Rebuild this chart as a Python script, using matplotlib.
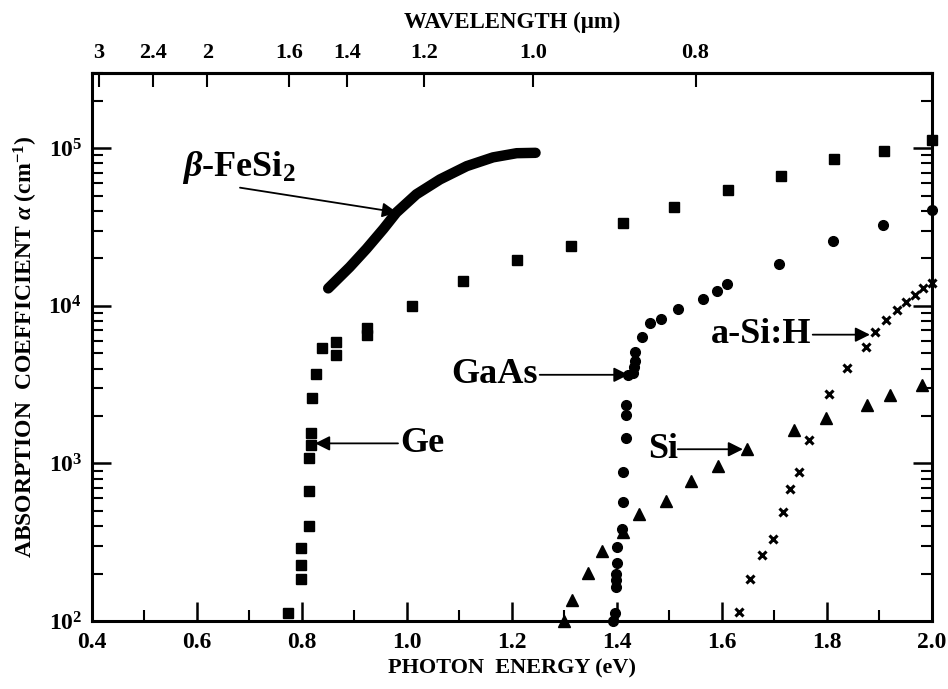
import matplotlib
matplotlib.use('Agg')
import matplotlib.pyplot as plt
from matplotlib.ticker import NullLocator, NullFormatter, FixedLocator
import numpy as np

plt.rcParams['font.family'] = 'Liberation Serif'
plt.rcParams['font.weight'] = 'bold'
plt.rcParams['axes.labelweight'] = 'bold'
plt.rcParams['mathtext.fontset'] = 'custom'
plt.rcParams['mathtext.rm'] = 'Liberation Serif:bold'
plt.rcParams['mathtext.it'] = 'Liberation Serif:italic:bold'
plt.rcParams['mathtext.bf'] = 'Liberation Serif:bold'

# dados (energia em eV, alfa em cm^-1)
ge_e = [0.774, 0.799, 0.799, 0.799, 0.814, 0.814, 0.814, 0.817, 0.817, 0.820, 0.826,
        0.839, 0.865, 0.865, 0.924, 0.924, 1.010, 1.107, 1.210, 1.312, 1.412, 1.509,
        1.612, 1.712, 1.813, 1.909, 2.0]
ge_a = [112, 186, 226, 292, 398, 670, 1080, 1300, 1550, 2600, 3700,
        5370, 5900, 4900, 6530, 7200, 10000, 14400, 19400, 24100, 33400, 42600,
        54500, 66800, 85900, 95500, 113000]

gaas_e = [1.392, 1.396, 1.398, 1.398, 1.399, 1.401, 1.401, 1.409, 1.411, 1.412, 1.417,
          1.417, 1.418, 1.422, 1.431, 1.433, 1.434, 1.434, 1.447, 1.463, 1.484, 1.516,
          1.564, 1.590, 1.609, 1.709, 1.811, 1.906, 2.0]
gaas_a = [100, 112, 165, 181, 200, 233, 294, 385, 565, 885, 1450,
          2040, 2360, 3650, 3740, 4070, 4440, 5120, 6300, 7770, 8300, 9580,
          11100, 12400, 13800, 18300, 25600, 32600, 40700]

si_e = [1.300, 1.314, 1.345, 1.371, 1.411, 1.443, 1.493, 1.541, 1.593, 1.647, 1.737,
        1.799, 1.876, 1.920, 1.982]
si_a = [100, 136, 203, 280, 366, 480, 580, 776, 964, 1230, 1640,
        1950, 2340, 2700, 3160]

asih_e = [1.632, 1.653, 1.676, 1.698, 1.716, 1.730, 1.746, 1.765, 1.804, 1.839, 1.874,
          1.891, 1.912, 1.933, 1.950, 1.968, 1.983, 2.001]
asih_a = [114, 186, 263, 332, 494, 687, 884, 1410, 2760, 4060, 5460,
          6860, 8130, 9350, 10600, 11700, 12900, 14000]

fesi_e = [0.850, 0.891, 0.923, 0.955, 0.980, 1.018, 1.063, 1.114, 1.164, 1.209, 1.245]
fesi_a = [12900, 17600, 23000, 30700, 39100, 51000, 63400, 77000, 87500, 93000, 93500]

# eixo superior: comprimento de onda (um)
wl = [3, 2.4, 2, 1.6, 1.4, 1.2, 1.0, 0.8]
wl_labels = ['3', '2.4', '2', '1.6', '1.4', '1.2', '1.0', '0.8']

fig, ax = plt.subplots(figsize=(9.48, 6.89), dpi=100)
fig.subplots_adjust(left=0.097, right=0.983, bottom=0.0987, top=0.894)

ax.plot(fesi_e, fesi_a, color='k', lw=7.5, solid_capstyle='round', solid_joinstyle='round')
ax.plot(ge_e, ge_a, 's', color='k', ms=7.5, clip_on=False)
ax.plot(gaas_e, gaas_a, 'o', color='k', ms=7, clip_on=False)
ax.plot(si_e, si_a, '^', color='k', ms=8.5, clip_on=False)
ax.plot(asih_e, asih_a, 'x', color='k', ms=6, mew=2.2, clip_on=False)

ax.set_yscale('log')
ax.set_xlim(0.4, 2.0)
ax.set_ylim(100, 3e5)
ax.set_xticks(np.arange(0.4, 2.01, 0.2))
ax.set_xticklabels(['0.4', '0.6', '0.8', '1.0', '1.2', '1.4', '1.6', '1.8', '2.0'])
ax.set_xticks(np.arange(0.5, 2.0, 0.2), minor=True)
ax.set_yticks([1e2, 1e3, 1e4, 1e5])

ax.tick_params(axis='both', which='both', direction='in', top=False, right=True)
ax.tick_params(axis='both', which='major', length=14, width=1.8, labelsize=17)
ax.tick_params(axis='x', which='minor', length=8, width=1.5)
ax.tick_params(axis='x', pad=8)
ax.tick_params(axis='y', pad=7)
for s in ax.spines.values():
    s.set_linewidth(2.2)

ax.set_xlabel('PHOTON  ENERGY (eV)', fontsize=16, fontweight='bold', labelpad=4)
ax.set_ylabel(r'ABSORPTION  COEFFICIENT $\alpha$ (cm$^{-1}$)', fontsize=17,
              fontweight='bold', labelpad=6)

# eixo de cima sem compartilhar o y
top = ax.secondary_xaxis('top')
top.set_xticks(1.2398 / np.array(wl))
top.set_xticklabels(wl_labels)
top.xaxis.set_minor_locator(NullLocator())
top.tick_params(axis='x', direction='in', length=10, width=1.5, labelsize=16, pad=7)
top.spines['top'].set_linewidth(2.2)
top.set_xlabel('WAVELENGTH (μm)', fontsize=16.5, fontweight='bold', labelpad=11)

# setas e rótulos
arrow = dict(arrowstyle='-|>', color='k', lw=1.3, mutation_scale=22, shrinkA=0, shrinkB=0)
ax.annotate('', xy=(0.981, 39200), xytext=(0.682, 56200), arrowprops=arrow)
ax.text(0.571, 75400, r'$\it{\beta}$-FeSi$_2$', fontsize=26, va='center', ha='left')

ax.annotate('', xy=(0.825, 1340), xytext=(0.983, 1340), arrowprops=arrow)
ax.text(0.987, 1340, 'Ge', fontsize=26, va='center', ha='left')

ax.annotate('', xy=(1.422, 3650), xytext=(1.253, 3650), arrowprops=arrow)
ax.text(1.250, 3650, 'GaAs', fontsize=26, va='center', ha='right')

ax.annotate('', xy=(1.640, 1230), xytext=(1.516, 1230), arrowprops=arrow)
ax.text(1.459, 1230, 'Si', fontsize=26, va='center', ha='left')

ax.annotate('', xy=(1.882, 6560), xytext=(1.773, 6560), arrowprops=arrow)
ax.text(1.771, 6560, 'a-Si:H', fontsize=26, va='center', ha='right')

# ticks menores do log por último, para nada sobrescrever
minor_y = [m * 10.0**d for d in range(2, 6) for m in range(2, 10) if m * 10.0**d <= 3e5]
ax.yaxis.set_minor_locator(FixedLocator(minor_y))
ax.yaxis.set_minor_formatter(NullFormatter())
ax.yaxis.set_tick_params(which='minor', left=True, right=True, direction='in',
                         length=8, width=1.5)

fig.savefig('out.png', dpi=100)
